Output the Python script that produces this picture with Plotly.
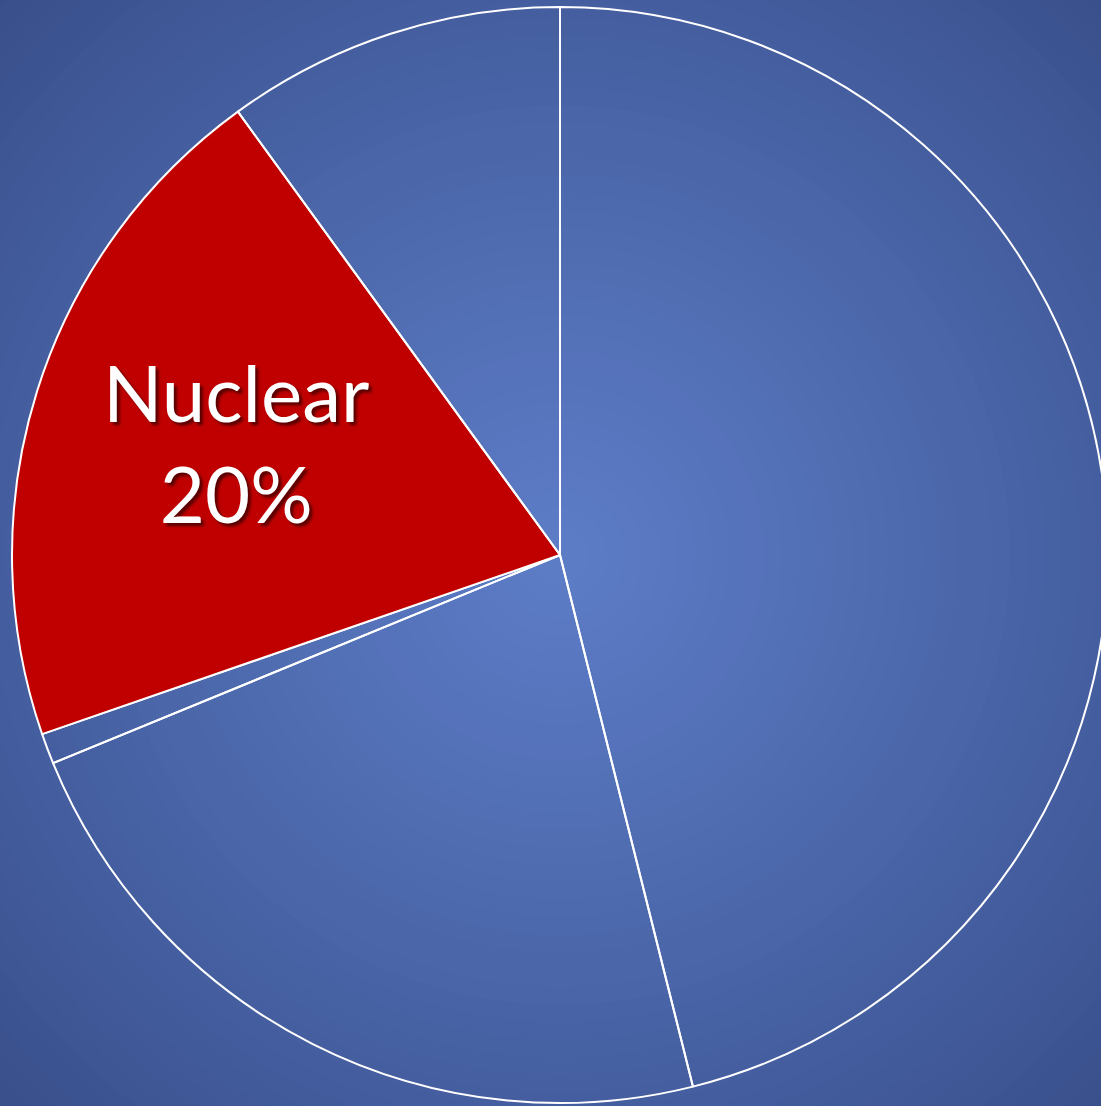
import plotly.graph_objects as go

# electricity generation mix (share, %)
sources = ["Coal", "Natural gas", "Oil", "Nuclear", "Renewables"]
shares = [46.1, 22.7, 0.9, 20.3, 10.0]
labels_shown = ["", "", "", "Nuclear<br>20%", ""]

slice_colors = ["rgba(0,0,0,0)", "rgba(0,0,0,0)", "rgba(0,0,0,0)", "#C00000", "rgba(0,0,0,0)"]

# figure is a bit wider than the window so the pie runs off the right edge
W, H = 1108, 1106
cx, cy = 560, 555

fig = go.Figure()

fig.add_trace(go.Pie(
    labels=sources,
    values=shares,
    text=labels_shown,
    textinfo="text",
    textposition="none",
    sort=False,
    direction="clockwise",
    rotation=0,
    marker=dict(colors=slice_colors, line=dict(color="white", width=2)),
    domain=dict(x=[12 / W, 1], y=[3 / H, 1 - 7 / H]),
    showlegend=False,
    hoverinfo="label+percent",
))

# radial background gradient: dark corners, lighter middle
outer = (56, 78, 138)
inner = (92, 124, 198)
shapes = []
n = 45
for i in range(n):
    t = i / (n - 1)
    r = 800 * (1 - t) + 30 * t
    c = tuple(round(outer[k] + (inner[k] - outer[k]) * t ** 0.9) for k in range(3))
    shapes.append(dict(
        type="circle", layer="below",
        xref="paper", yref="paper",
        xsizemode="pixel", ysizemode="pixel",
        xanchor=cx / W, yanchor=1 - cy / H,
        x0=-r, x1=r, y0=-r, y1=r,
        fillcolor="rgb(%d,%d,%d)" % c, line=dict(width=0),
    ))

nuc = sources.index("Nuclear")
fig.add_annotation(
    x=236 / W, y=1 - 442 / H, xref="paper", yref="paper",
    xanchor="center", yanchor="middle",
    text=labels_shown[nuc], showarrow=False,
    font=dict(family="Lato", size=78, color="white",
              shadow="3px 3px 3px rgba(0,0,0,0.55)"),
    align="center",
)

fig.update_layout(
    width=W, height=H,
    margin=dict(l=0, r=0, t=0, b=0),
    paper_bgcolor="rgb(56,78,138)",
    plot_bgcolor="rgba(0,0,0,0)",
    shapes=shapes,
)

fig.write_html(
    "out.html",
    config={"displayModeBar": False},
    post_script="document.body.style.margin='0';"
                "document.body.style.overflow='hidden';"
                "document.documentElement.style.overflow='hidden';",
)
